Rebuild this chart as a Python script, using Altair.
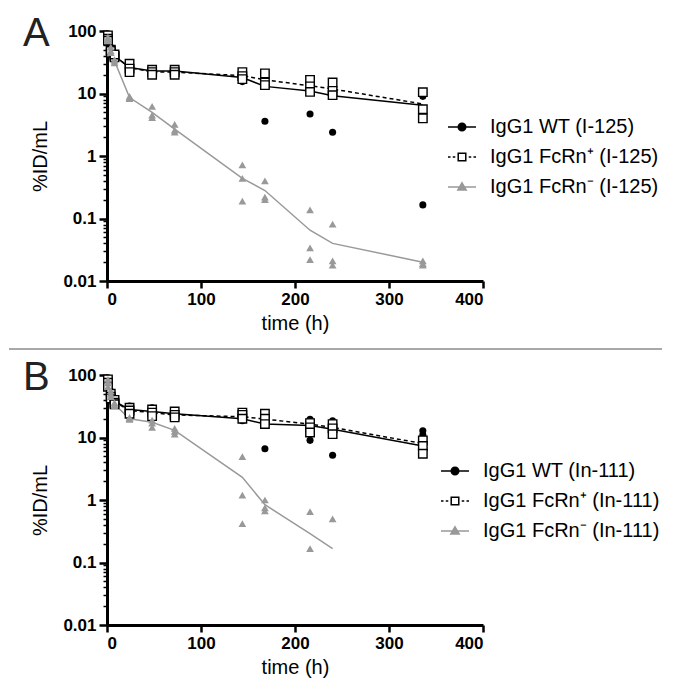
import altair as alt
import pandas as pd

TIMES = [1, 4, 8, 24, 48, 72, 144, 168, 216, 240, 336]

SERIES_A = ["IgG1 WT (I-125)", "IgG1 FcRn\u207a (I-125)", "IgG1 FcRn\u207b (I-125)"]
SERIES_B = ["IgG1 WT (In-111)", "IgG1 FcRn\u207a (In-111)", "IgG1 FcRn\u207b (In-111)"]

# Panel A (I-125) replicate values per time point
A_WT = [[90, 80, 70], [55, 50, 45], [42, 38, 40], [28, 26, 24], [22, 20, 24], [23, 22, 24],
        [21, 18, 15.5], [18.5, 17, 3.6], [15, 13.5, 4.7], [13, 12, 2.4], [10.5, 9, 0.165]]
A_WT_LINE = [82, 50, 40, 26, 23, 23, 18, 13.0, 11.0, 9.2, 6.5]
A_POS = [[85, 75, 70], [50, 45, 48], [40, 38, 42], [30, 25, 22], [24, 22, 20], [24, 22, 20],
         [22, 19, 17], [21, 15, 13.6], [16.5, 13, 10.6], [15, 11, 9.4], [10.5, 5.6, 4.0]]
A_POS_LINE = [78, 48, 40, 26, 22, 22, 19.3, 16.5, 13.3, 11.8, 6.8]
A_NEG = [[80, 75, 70], [55, 48, 45], [35, 33, 31], [9.0, 8.6, 8.3], [6.2, 4.5, 4.1], [3.2, 2.6, 2.4],
         [0.72, 0.44, 0.19], [0.40, 0.22, 0.20], [0.137, 0.034, 0.022], [0.081, 0.021, 0.018],
         [0.021, 0.019, 0.018]]
A_NEG_LINE = [75, 50, 33, 8.6, 5.0, 2.7, 0.44, 0.28, 0.065, 0.04, 0.02]

# Panel B (In-111)
B_WT = [[90, 80, 70], [55, 50, 45], [42, 38, 36], [32, 28, 25], [30, 26, 23], [26, 24, 22],
        [22, 20, 18.5], [22, 20.5, 6.6], [19.5, 17.5, 9.0], [18.5, 16.5, 5.2], [12.8, 11, 9.5]]
B_WT_LINE = [80, 50, 38, 28, 26, 24, 20, 16.4, 15.6, 13.5, 7.3]
B_POS = [[85, 75, 65], [50, 45, 42], [40, 36, 34], [30, 27, 24], [28, 25, 22], [26, 23, 21],
         [25, 23, 20], [24, 20, 16.4], [17, 14.5, 12], [16.4, 14, 11.3], [9, 7.3, 5.5]]
B_POS_LINE = [78, 48, 37, 27, 25, 23, 21.5, 19.7, 16.4, 14.5, 8.0]
B_NEG = [[85, 75, 65], [55, 50, 45], [36, 34, 32], [21, 20, 19.5], [19, 17, 14.5], [14, 12.5, 11.3],
         [4.95, 1.2, 0.42], [1.0, 0.75, 0.67], [0.65, 0.167], [0.50], []]
B_NEG_LINE = [75, 50, 34, 20, 17.5, 13, 2.3, 0.84, 0.29, 0.167, None]

X_TICKS = [0, 100, 200, 300, 400]
Y_TICKS = [0.01, 0.1, 1, 10, 100]
Y_MINOR = [0.02, 0.03, 0.04, 0.05, 0.06, 0.07, 0.08, 0.09,
           0.2, 0.3, 0.4, 0.5, 0.6, 0.7, 0.8, 0.9,
           2, 3, 4, 5, 6, 7, 8, 9,
           20, 30, 40, 50, 60, 70, 80, 90]

FONT = "Liberation Sans"
GRAY = "#999999"

# legend symbols: line + marker as SVG paths
LEG_WT = "M-1,0H1M-0.27,0A0.27,0.27 0 1,0 0.27,0A0.27,0.27 0 1,0 -0.27,0Z"
LEG_POS = ("M-1,0H-0.82M-0.66,0H-0.48M0.48,0H0.66M0.82,0H1"
           "M-0.27,-0.27H0.27V0.27H-0.27Z")
LEG_NEG = "M-1,0H1M0,-0.3L0.3,0.22H-0.3Z"


def pts_df(times, reps):
    rows = []
    for t, vals in zip(times, reps):
        for v in vals:
            rows.append({"t": t, "v": v})
    return pd.DataFrame(rows)


def line_df(times, vals):
    return pd.DataFrame([{"t": t, "v": v} for t, v in zip(times, vals) if v is not None])


def panel(letter, series, wt, wt_line, pos, pos_line, neg, neg_line, separator, leg_x):
    xs = alt.Scale(domain=[0, 400], nice=False)
    ys = alt.Scale(type="log", domain=[0.01, 100], nice=False)
    xaxis = alt.Axis(values=X_TICKS, title="time (h)", labelFontWeight="bold", labelFontSize=17,
                     titleFontSize=20, titleFontWeight="normal", tickSize=7, tickWidth=2.5,
                     domainWidth=3, labelPadding=3, titlePadding=6, labelFont=FONT, titleFont=FONT,
                     orient="bottom")
    yaxis = alt.Axis(values=Y_TICKS, title="%ID/mL", format="~g", labelFontWeight="bold",
                     labelFontSize=17, titleFontSize=20, titleFontWeight="normal", tickSize=8,
                     tickWidth=2.5, domainWidth=3, labelPadding=3, titlePadding=12,
                     labelFont=FONT, titleFont=FONT, orient="left")
    yminor = alt.Axis(values=Y_MINOR, labels=False, domain=False, tickSize=4, tickWidth=1.5,
                      title=None, orient="left")

    X = alt.X("t:Q", scale=xs, axis=None)
    Y = alt.Y("v:Q", scale=ys, axis=None)

    axes_layer = alt.Chart(line_df(TIMES, wt_line)).mark_line(opacity=0).encode(
        x=alt.X("t:Q", scale=xs, axis=xaxis), y=alt.Y("v:Q", scale=ys, axis=yaxis))
    minor_layer = alt.Chart(line_df(TIMES, wt_line)).mark_line(opacity=0).encode(
        x=X, y=alt.Y("v:Q", scale=ys, axis=yminor))

    l_wt = alt.Chart(line_df(TIMES, wt_line)).mark_line(color="black", strokeWidth=1.5).encode(x=X, y=Y)
    l_pos = alt.Chart(line_df(TIMES, pos_line)).mark_line(color="black", strokeWidth=1.5,
                                                          strokeDash=[4, 3]).encode(x=X, y=Y)
    l_neg = alt.Chart(line_df(TIMES, neg_line)).mark_line(color=GRAY, strokeWidth=1.5).encode(x=X, y=Y)

    p_wt = alt.Chart(pts_df(TIMES, wt)).mark_point(shape="circle", filled=True, color="black",
                                                   size=50, opacity=1).encode(x=X, y=Y)
    p_pos = alt.Chart(pts_df(TIMES, pos)).mark_point(shape="square", filled=True, fill="white",
                                                     stroke="black", strokeWidth=1.4, size=72,
                                                     opacity=1).encode(x=X, y=Y)
    p_neg = alt.Chart(pts_df(TIMES, neg)).mark_point(shape="triangle-up", filled=True, color=GRAY,
                                                     size=60, opacity=1).encode(x=X, y=Y)

    leg_df = pd.DataFrame({"series": series, "t": [200, 200, 200], "v": [1, 1, 1]})
    legend = alt.Legend(title=None, orient="none", legendX=leg_x, legendY=81, labelFontSize=20,
                        labelFont=FONT, labelColor="black", symbolSize=784, symbolStrokeWidth=1.5,
                        symbolOpacity=1, rowPadding=5, labelOffset=13, padding=0, labelLimit=400)
    leg_layer = alt.Chart(leg_df).mark_point(opacity=0, size=1).encode(
        x=X, y=Y,
        shape=alt.Shape("series:N", scale=alt.Scale(domain=series, range=[LEG_WT, LEG_POS, LEG_NEG]),
                        legend=legend),
        fill=alt.Fill("series:N", scale=alt.Scale(domain=series, range=["black", "white", GRAY]),
                      legend=legend),
        stroke=alt.Stroke("series:N", scale=alt.Scale(domain=series, range=["black", "black", GRAY]),
                          legend=legend),
    )

    one = pd.DataFrame({"k": [0]})
    label = alt.Chart(one).mark_text(text=letter, fontSize=40, font=FONT, align="left",
                                     baseline="alphabetic", color="#222222").encode(
        x=alt.value(-84), y=alt.value(15))

    layers = [axes_layer, minor_layer, l_wt, l_pos, l_neg, p_wt, p_pos, p_neg, leg_layer, label]
    if separator:
        sep = alt.Chart(one).mark_rule(color="#a8a8a8", strokeWidth=2).encode(
            x=alt.value(-98), x2=alt.value(555), y=alt.value(318))
        layers.append(sep)
    return alt.layer(*layers).resolve_scale(y="shared", x="shared").resolve_axis(
        x="independent", y="independent").properties(width=376, height=250)


pa = panel("A", SERIES_A, A_WT, A_WT_LINE, A_POS, A_POS_LINE, A_NEG, A_NEG_LINE, True, 340)
pb = panel("B", SERIES_B, B_WT, B_WT_LINE, B_POS, B_POS_LINE, B_NEG, B_NEG_LINE, False, 333)

chart = alt.vconcat(pa, pb, spacing=8).resolve_scale(shape="independent", fill="independent",
                                                    stroke="independent").properties(
    padding={"left": 0, "top": 6, "right": 0, "bottom": 5}
).configure_view(stroke=None).configure_axis(
    grid=False, domainColor="black", tickColor="black", labelColor="black", titleColor="black"
)

chart.save("out.html", embed_options={"renderer": "svg", "actions": False})
